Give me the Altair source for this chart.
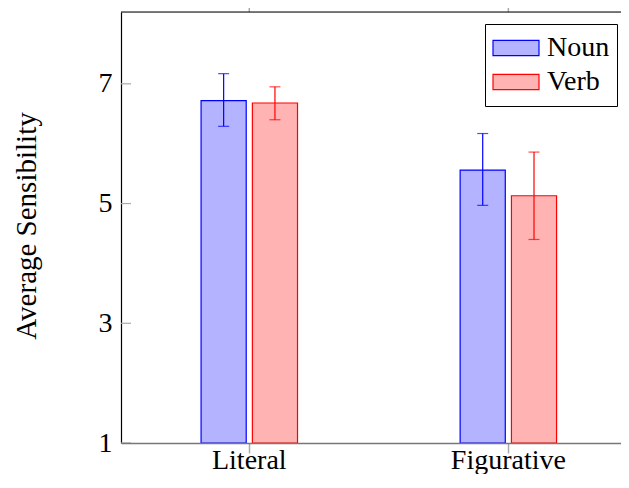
import altair as alt
import pandas as pd

categories = ["Literal", "Figurative"]
series = ["Noun", "Verb"]
noun_mean = [6.72, 5.56]
verb_mean = [6.68, 5.13]
noun_low = [6.29, 4.97]
noun_high = [7.17, 6.17]
verb_low = [6.40, 4.40]
verb_high = [6.95, 5.86]
y_ticks = [1, 3, 5, 7]
fill_colors = ["#b3b3ff", "#ffb3b3"]
stroke_colors = ["#0000ff", "#ff0000"]

rows = []
for i, c in enumerate(categories):
    rows.append(dict(category=c, series="Noun", mean=noun_mean[i], low=noun_low[i], high=noun_high[i]))
    rows.append(dict(category=c, series="Verb", mean=verb_mean[i], low=verb_low[i], high=verb_high[i]))
df = pd.DataFrame(rows)
cat_df = pd.DataFrame({"category": categories})
tick_df = pd.DataFrame({"v": y_ticks})
frame_df = pd.DataFrame({"k": [0]})

W, H = 500, 431
FONT = "Liberation Serif"
FS = 28

x_scale = alt.Scale(domain=categories, paddingInner=0.6, paddingOuter=0.265, align=0.557)
xo_scale = alt.Scale(domain=series, paddingInner=0.12, paddingOuter=0.07)
y_scale = alt.Scale(domain=[1, 8.2], nice=False, zero=False)
fill_scale = alt.Scale(domain=series, range=fill_colors)
stroke_scale = alt.Scale(domain=series, range=stroke_colors)

legend = alt.Legend(
    title=None, orient="none", legendX=364, legendY=12, padding=7,
    strokeColor="black", fillColor="white",
    labelFont=FONT, labelFontSize=FS, labelColor="black", labelOffset=7,
    labelExpr="datum.label + ' '",
    symbolType="M-1,-0.33H1V0.33H-1Z", symbolSize=2116, symbolStrokeWidth=1.2,
    rowPadding=0, clipHeight=34,
)

x_axis = alt.Axis(
    title=None, labelFont=FONT, labelFontSize=FS, labelColor="black", labelAngle=0,
    tickSize=10, tickColor="#aaaaaa", tickWidth=1.5, domainColor="#777777", domainWidth=1.5,
    labelPadding=15, labelBaseline="alphabetic", zindex=1,
)
y_axis = alt.Axis(
    values=y_ticks, format="d", title="Average Sensibility", titleFont=FONT, titleFontSize=29,
    titleFontWeight="normal", titleColor="black", titleX=-86, titleY=213.5, titleAngle=270,
    titleAlign="center", titleBaseline="alphabetic",
    labelFont=FONT, labelFontSize=FS, labelColor="black", labelPadding=9,
    ticks=False, domain=True, domainColor="black", domainWidth=1.2, grid=False,
)

base = alt.Chart(df)
x_enc = alt.X("category:N", scale=x_scale, axis=x_axis, sort=categories)
xo_enc = alt.XOffset("series:N", scale=xo_scale, sort=series)

bars = base.mark_bar(strokeWidth=1.2).encode(
    x=x_enc, xOffset=xo_enc,
    y=alt.Y("mean:Q", scale=y_scale, axis=y_axis),
    y2=alt.datum(1),
    fill=alt.Fill("series:N", scale=fill_scale, legend=legend),
    stroke=alt.Stroke("series:N", scale=stroke_scale, legend=legend),
)

err = base.mark_rule(strokeWidth=1.2).encode(
    x=x_enc, xOffset=xo_enc,
    y=alt.Y("low:Q", scale=y_scale), y2="high:Q",
    stroke=alt.Stroke("series:N", scale=stroke_scale, legend=None),
)
cap_lo = base.mark_tick(size=11, thickness=1.2).encode(
    x=x_enc, xOffset=xo_enc,
    y=alt.Y("low:Q", scale=y_scale),
    color=alt.Color("series:N", scale=stroke_scale, legend=None),
)
cap_hi = base.mark_tick(size=11, thickness=1.2).encode(
    x=x_enc, xOffset=xo_enc,
    y=alt.Y("high:Q", scale=y_scale),
    color=alt.Color("series:N", scale=stroke_scale, legend=None),
)

top_ticks = alt.Chart(cat_df).mark_rule(color="#aaaaaa", strokeWidth=1.5).encode(
    x=alt.X("category:N", scale=x_scale, sort=categories),
    y=alt.value(-10), y2=alt.value(0),
)
left_ticks = alt.Chart(tick_df).mark_rule(color="#aaaaaa", strokeWidth=1.2).encode(
    y=alt.Y("v:Q", scale=y_scale), x=alt.value(0), x2=alt.value(10),
)
top_border = alt.Chart(frame_df).mark_rule(color="black", strokeWidth=1.2).encode(
    y=alt.value(0), x=alt.value(0), x2=alt.value(W),
)

chart = alt.layer(bars, err, cap_lo, cap_hi, top_ticks, left_ticks, top_border).properties(
    width=W, height=H,
    autosize=alt.AutoSizeParams(type="none"),
    padding={"left": 113, "top": 4, "right": 0, "bottom": 31},
).configure_view(strokeWidth=0).configure(background="white")

chart.save("out.html", embed_options={"renderer": "svg", "actions": False})
